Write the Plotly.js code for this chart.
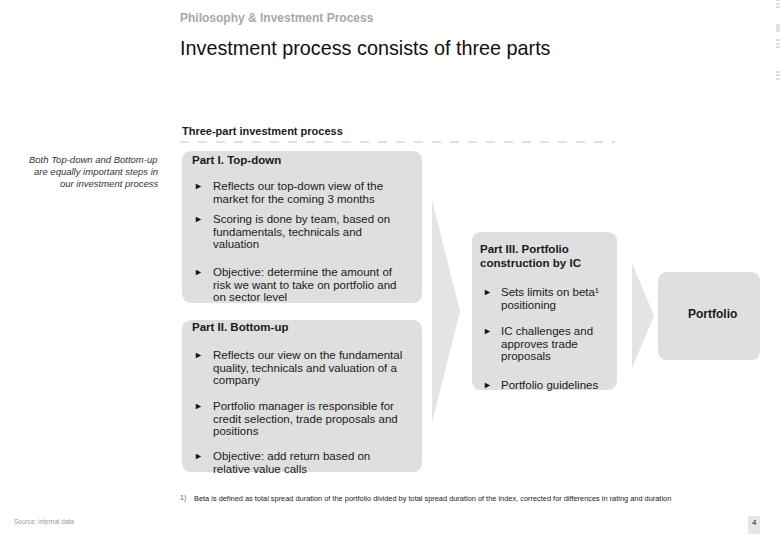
<!DOCTYPE html>
<html>
<head>
<meta charset="utf-8">
<script src="https://cdn.plot.ly/plotly-3.0.1.min.js"></script>
<style>
  html, body { margin: 0; padding: 0; background: #fff; }
  #slide { width: 780px; height: 540px; }
</style>
</head>
<body>
<div id="slide"></div>
<script>
// Slide texts
const headerText = 'Philosophy & Investment Process';
const titleText = 'Investment process consists of three parts';
const subTitle = 'Three-part investment process';
const sideNote = ['Both Top-down and Bottom-up', 'are equally important steps in', 'our investment process'];
const partTitles = [
    ['Part I. Top-down'],
    ['Part II. Bottom-up'],
    ['Part III. Portfolio', 'construction by IC']
];
const partBullets = [
    [
        ['Reflects our top-down view of the', 'market for the coming 3 months'],
        ['Scoring is done by team, based on', 'fundamentals, technicals and', 'valuation'],
        ['Objective: determine the amount of', 'risk we want to take on portfolio and', 'on sector level']
    ],
    [
        ['Reflects our view on the fundamental', 'quality, technicals and valuation of a', 'company'],
        ['Portfolio manager is responsible for', 'credit selection, trade proposals and', 'positions'],
        ['Objective: add return based on', 'relative value calls']
    ],
    [
        ['Sets limits on beta\u00b9', 'positioning'],
        ['IC challenges and', 'approves trade', 'proposals'],
        ['Portfolio guidelines']
    ]
];
const outcomeLabel = 'Portfolio';
const footnote = 'Beta is defined as total spread duration of the portfolio divided by total spread duration of the index, corrected for differences in rating and duration';
const sourceText = 'Source: internal data';
const pageNumber = '4';

// Layout of the slide (pixels, y measured from top)
const boxes = [
    { x0: 182, y0: 151, x1: 422, y1: 303 },
    { x0: 182, y0: 320, x1: 422, y1: 472 },
    { x0: 472, y0: 232, x1: 617, y1: 390 },
    { x0: 658, y0: 272, x1: 760, y1: 360 }
];
const arrows = [
    { x: 432, top: 200, bottom: 423, tip: 460 },
    { x: 632, top: 263, bottom: 368, tip: 654 }
];
const titleX = [190, 190, 478];
const titleY = [160, 327, 249];
const bulletX = [192, 192, 481];
const textX = [211, 211, 499];
const bulletStartY = [[186, 219, 272], [355, 406, 456], [292, 331, 385]];
const LINE_STEP = 12.5;

const FONT = 'Liberation Sans, Arial, sans-serif';
const BOX_FILL = '#dfdfdf';
const TEXT = '#1a1a1a';

function roundRect(b, r) {
    return `M${b.x0 + r},${b.y0} L${b.x1 - r},${b.y0} Q${b.x1},${b.y0} ${b.x1},${b.y0 + r} ` +
        `L${b.x1},${b.y1 - r} Q${b.x1},${b.y1} ${b.x1 - r},${b.y1} L${b.x0 + r},${b.y1} ` +
        `Q${b.x0},${b.y1} ${b.x0},${b.y1 - r} L${b.x0},${b.y0 + r} Q${b.x0},${b.y0} ${b.x0 + r},${b.y0} Z`;
}

function label(text, x, y, opts = {}) {
    return {
        text, x, y, xref: 'x', yref: 'y', showarrow: false,
        xanchor: opts.anchor || 'left', yanchor: 'middle', align: opts.anchor || 'left',
        font: { family: FONT, size: opts.size || 11.5, color: opts.color || TEXT }
    };
}

const shapes = [];
boxes.forEach(b => shapes.push({
    type: 'path', path: roundRect(b, 10), xref: 'x', yref: 'y',
    fillcolor: BOX_FILL, line: { width: 0 }, layer: 'below'
}));
arrows.forEach(a => shapes.push({
    type: 'path', xref: 'x', yref: 'y',
    path: `M${a.x},${a.top} L${a.tip},${(a.top + a.bottom) / 2} L${a.x},${a.bottom} Z`,
    fillcolor: '#e4e4e4', line: { width: 0 }, layer: 'below'
}));
shapes.push({
    type: 'line', xref: 'x', yref: 'y', x0: 180, x1: 615, y0: 142, y1: 142,
    line: { color: '#c4c4c4', width: 1, dash: 'dash' }
});
// small tab marks on the right edge
[0, 4, 7, 40, 44, 47, 72, 75, 79].forEach(y => shapes.push({
    type: 'line', xref: 'x', yref: 'y', x0: 776, x1: 780, y0: y, y1: y,
    line: { color: '#bdbdbd', width: 1 }
}));
shapes.push({
    type: 'rect', xref: 'x', yref: 'y', x0: 776, x1: 780, y0: 24, y1: 32,
    fillcolor: '#e2e2e2', line: { width: 0 }
});
shapes.push({
    type: 'rect', xref: 'x', yref: 'y', x0: 748, x1: 760, y0: 516, y1: 534,
    fillcolor: '#e6e6e6', line: { width: 0 }
});

const annotations = [
    label(`<b>${headerText}</b>`, 178, 18, { size: 12, color: '#a8a8a8' }),
    label(titleText, 178, 48, { size: 19.8, color: '#111' }),
    label(`<b>${subTitle}</b>`, 180, 131, { size: 11 }),
    label(outcomeLabel.bold(), 712, 314, { size: 12, anchor: 'center' }),
    label('1)', 178, 498, { size: 7, color: '#666' }),
    label(footnote, 192, 498, { size: 7.4, color: '#222' }),
    label(sourceText, 12, 521, { size: 6.5, color: '#9a9a9a' }),
    label(pageNumber, 754, 522, { size: 8, color: '#222', anchor: 'center' })
];
sideNote.forEach((line, i) => annotations.push(
    label(`<i>${line}</i>`, 160, 159 + i * 12, { size: 9.5, anchor: 'right', color: '#333' })
));
partTitles.forEach((lines, p) => lines.forEach((line, i) => annotations.push(
    label(`<b>${line}</b>`, titleX[p], titleY[p] + i * 14, { size: 11.5 })
)));
partBullets.forEach((bullets, p) => bullets.forEach((lines, b) => {
    const y0 = bulletStartY[p][b];
    annotations.push(label('\u25BA', bulletX[p], y0, { size: 9, color: '#111' }));
    lines.forEach((line, i) => annotations.push(label(line, textX[p], y0 + i * LINE_STEP)));
}));

Plotly.newPlot('slide', [{ type: 'scatter', mode: 'markers', x: [], y: [], hoverinfo: 'none' }], {
    width: 780,
    height: 540,
    margin: { l: 0, r: 0, t: 0, b: 0 },
    paper_bgcolor: '#fff',
    plot_bgcolor: '#fff',
    xaxis: { range: [0, 780], visible: false, fixedrange: true },
    yaxis: { range: [540, 0], visible: false, fixedrange: true },
    showlegend: false,
    shapes,
    annotations
}, { displayModeBar: false, staticPlot: true });
</script>
</body>
</html>
